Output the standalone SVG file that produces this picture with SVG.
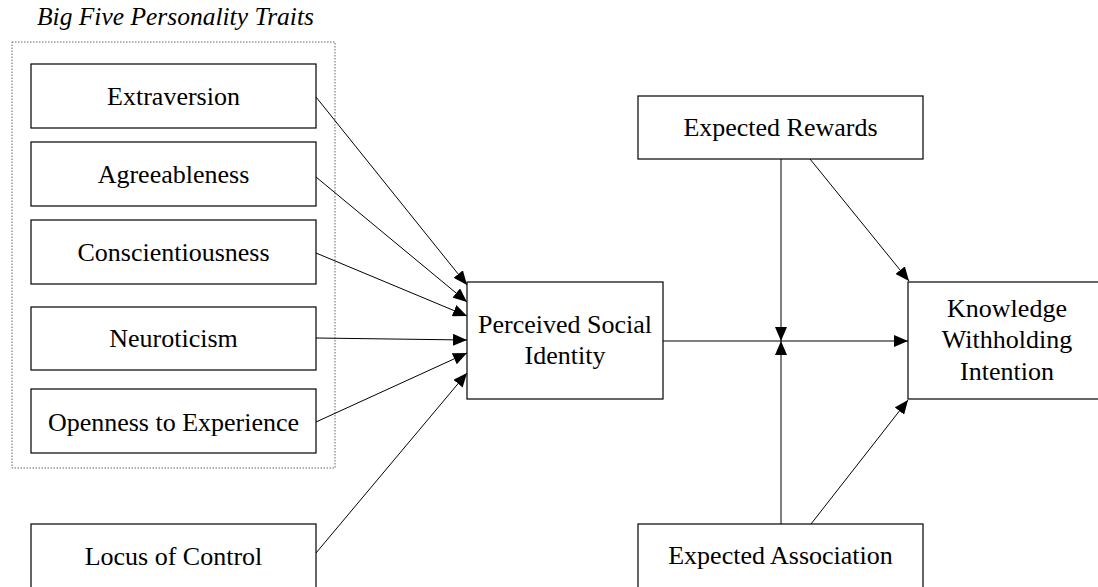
<svg xmlns="http://www.w3.org/2000/svg" width="1098" height="587" viewBox="0 0 1098 587">
<style>
.box{fill:#fff;stroke:#000;stroke-width:1.2}
.t{font-family:"Liberation Serif","Times New Roman",serif;font-size:26px;fill:#000;text-anchor:middle}
.c{stroke:#000;stroke-width:1;fill:none}
</style>
<defs>
<marker id="ah" viewBox="0 0 14 12" refX="14" refY="6" markerWidth="14" markerHeight="12" markerUnits="userSpaceOnUse" orient="auto">
<path d="M0,0 L14,6 L0,12 Z" fill="#000"/>
</marker>
</defs>
<rect width="1098" height="587" fill="#fff"/>
<text x="37" y="25" style="font-family:'Liberation Serif','Times New Roman',serif;font-size:25.5px;font-style:italic">Big Five Personality Traits</text>
<rect x="12" y="42" width="323" height="426" fill="none" stroke="#666" stroke-width="1" stroke-dasharray="1.5,1.5"/>
<g id="extraversion"><rect class="box" x="31" y="64" width="285" height="64"/><text class="t" x="173.5" y="105">Extraversion</text></g>
<g id="agreeableness"><rect class="box" x="31" y="142" width="285" height="64"/><text class="t" x="173.5" y="183">Agreeableness</text></g>
<g id="conscientiousness"><rect class="box" x="31" y="220" width="285" height="64"/><text class="t" x="173.5" y="261">Conscientiousness</text></g>
<g id="neuroticism"><rect class="box" x="31" y="307" width="285" height="63"/><text class="t" x="173.5" y="347">Neuroticism</text></g>
<g id="openness"><rect class="box" x="31" y="389" width="285" height="64"/><text class="t" x="173.5" y="431">Openness to Experience</text></g>
<g id="locus"><rect class="box" x="31" y="524" width="285" height="70"/><text class="t" x="173.5" y="565">Locus of Control</text></g>
<g id="psi"><rect class="box" x="467" y="282" width="196" height="117"/><text class="t" x="565" y="333">Perceived Social</text><text class="t" x="565" y="364">Identity</text></g>
<g id="rewards"><rect class="box" x="638" y="96" width="285" height="63"/><text class="t" x="780.5" y="136">Expected Rewards</text></g>
<g id="association"><rect class="box" x="638" y="524" width="285" height="70"/><text class="t" x="780.5" y="564">Expected Association</text></g>
<g id="kwi"><rect class="box" x="908" y="282" width="200" height="117"/><text class="t" x="1007" y="317">Knowledge</text><text class="t" x="1007" y="348">Withholding</text><text class="t" x="1007" y="380">Intention</text></g>
<g id="connectors">
<line class="c" x1="316" y1="97" x2="467" y2="285" marker-end="url(#ah)"/>
<line class="c" x1="316" y1="177" x2="467" y2="302" marker-end="url(#ah)"/>
<line class="c" x1="316" y1="253" x2="467" y2="316" marker-end="url(#ah)"/>
<line class="c" x1="316" y1="338" x2="467" y2="340" marker-end="url(#ah)"/>
<line class="c" x1="316" y1="422" x2="467" y2="353" marker-end="url(#ah)"/>
<line class="c" x1="316" y1="553" x2="467" y2="373" marker-end="url(#ah)"/>
<line class="c" x1="663" y1="341" x2="908" y2="341" marker-end="url(#ah)"/>
<line class="c" x1="781" y1="159" x2="781" y2="341" marker-end="url(#ah)"/>
<line class="c" x1="781" y1="524" x2="781" y2="341" marker-end="url(#ah)"/>
<line class="c" x1="810" y1="159" x2="909" y2="281" marker-end="url(#ah)"/>
<line class="c" x1="811" y1="524" x2="908" y2="400" marker-end="url(#ah)"/>
</g>
</svg>
